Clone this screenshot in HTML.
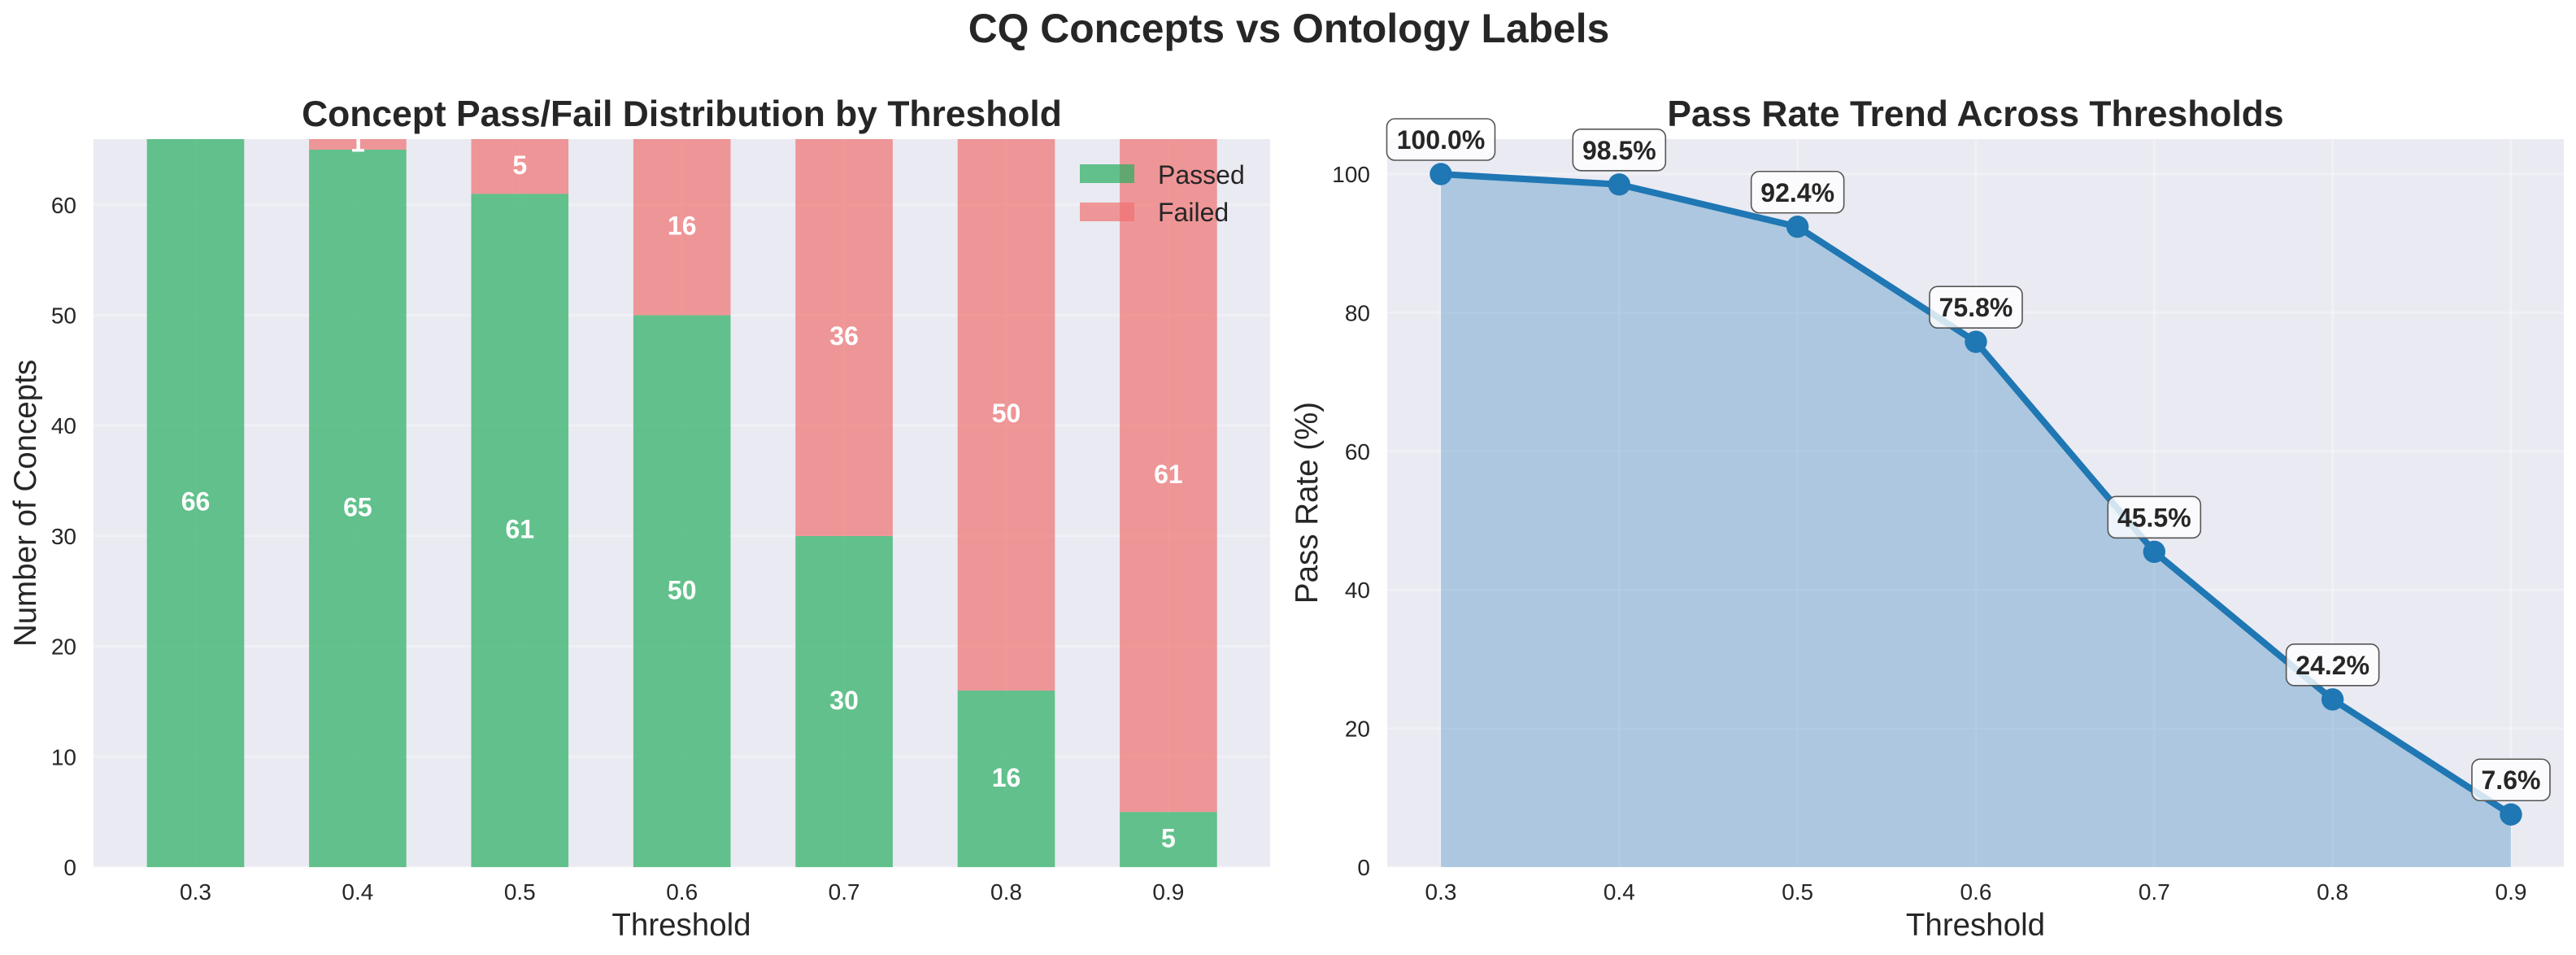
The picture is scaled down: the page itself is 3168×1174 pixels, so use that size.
<!DOCTYPE html>
<html lang="en">
<head>
<meta charset="utf-8">
<title>CQ Concepts vs Ontology Labels</title>
<style>
html,body{margin:0;padding:0;background:#fff;}
svg{display:block;font-family:"Liberation Sans",Arial,sans-serif;}
text{fill:#262626;}
</style>
</head>
<body>
<svg id="chart" xmlns="http://www.w3.org/2000/svg" width="3168" height="1174" viewBox="0 0 3168 1174">
  <defs>
    <clipPath id="left-clip"><rect x="115" y="171" width="1447" height="895"/></clipPath>
    <clipPath id="right-clip"><rect x="1706" y="171" width="1447" height="895"/></clipPath>
  </defs>
  <text x="1585" y="52" text-anchor="middle" font-size="49.8" font-weight="700">CQ Concepts vs Ontology Labels</text>

  <rect x="115" y="171" width="1447" height="895" fill="#eaeaf2"/>
  <g id="left-grid"></g>
  <g id="left-bars" clip-path="url(#left-clip)"></g>
  <g id="left-values"></g>
  <g id="left-ticks"></g>
  <text x="838.5" y="155" text-anchor="middle" font-size="44.4" font-weight="700">Concept Pass/Fail Distribution by Threshold</text>
  <text x="838" y="1150" text-anchor="middle" font-size="38.5">Threshold</text>
  <text transform="translate(44 618.5) rotate(-90)" text-anchor="middle" font-size="38.5">Number of Concepts</text>

  <g>
    <rect x="1328" y="202" width="67" height="23" fill="#27ae60" fill-opacity="0.7"/>
    <text x="1424" y="226" font-size="32">Passed</text>
    <rect x="1328" y="249" width="67" height="23" fill="#f07070" fill-opacity="0.7"/>
    <text x="1424" y="272" font-size="32">Failed</text>
  </g>

  <rect x="1706" y="171" width="1447" height="895" fill="#eaeaf2"/>
  <g id="right-grid"></g>
  <g id="right-series"></g>
  <g id="right-annotations"></g>
  <g id="right-ticks"></g>
  <text x="2429.5" y="155" text-anchor="middle" font-size="44.4" font-weight="700">Pass Rate Trend Across Thresholds</text>
  <text x="2429.5" y="1150" text-anchor="middle" font-size="38.5">Threshold</text>
  <text transform="translate(1620 618) rotate(-90)" text-anchor="middle" font-size="38.5">Pass Rate (%)</text>
</svg>
<script>
const thresholds = [0.3, 0.4, 0.5, 0.6, 0.7, 0.8, 0.9];
const passedCounts = [66, 65, 61, 50, 30, 16, 5];
const failedCounts = [0, 1, 5, 16, 36, 50, 61];
const passRates = [100.0, 98.5, 92.4, 75.8, 45.5, 24.2, 7.6];
const leftYTicks = [0, 10, 20, 30, 40, 50, 60];
const rightYTicks = [0, 20, 40, 60, 80, 100];

const NS = 'http://www.w3.org/2000/svg';
function mk(tag, attrs, parent, txt) {
  const el = document.createElementNS(NS, tag);
  for (const k in attrs) el.setAttribute(k, attrs[k]);
  if (txt !== undefined) el.textContent = txt;
  parent.appendChild(el);
  return el;
}
const byId = id => document.getElementById(id);

const xLeft = i => 240.5 + 199.4 * i;
const yLeft = v => 1066 - 13.57 * v;
const xRight = t => 1772 + (t - 0.3) * 2193.3;
const yRight = v => 1066 - 8.52 * v;
const barWidth = 119.6;
const GRID = {stroke: '#ffffff', 'stroke-opacity': 0.3, 'stroke-width': 3};

leftYTicks.forEach(v => {
  const line = mk('line', Object.assign({x1: 115, x2: 1562, y1: yLeft(v), y2: yLeft(v)}, GRID), byId('left-grid'));
  
  
  const label = mk('text', {x: 94, y: yLeft(v) + 10, 'text-anchor': 'end', 'font-size': 28}, byId('left-ticks'), String(v));
  
  
});

thresholds.forEach((t, i) => {
  const line = mk('line', Object.assign({x1: xLeft(i), x2: xLeft(i), y1: 171, y2: 1066}, GRID), byId('left-grid'));
  
  
  const tick = mk('text', {x: xLeft(i), y: 1106, 'text-anchor': 'middle', 'font-size': 28}, byId('left-ticks'), t.toFixed(1));
  
  

  const p = passedCounts[i], f = failedCounts[i];
  const barP = mk('rect', {x: xLeft(i) - barWidth / 2, y: yLeft(p), width: barWidth, height: yLeft(0) - yLeft(p), fill: '#27ae60', 'fill-opacity': 0.7}, byId('left-bars'));
  
  
  const barF = mk('rect', {x: xLeft(i) - barWidth / 2, y: yLeft(p + f), width: barWidth, height: yLeft(p) - yLeft(p + f), fill: '#f07070', 'fill-opacity': 0.7}, byId('left-bars'));
  
  

  if (p > 0) {
    const vp = mk('text', {x: xLeft(i), y: yLeft(p / 2) + 9.5, 'text-anchor': 'middle', 'font-size': 32, 'font-weight': 700, style: 'fill:#fff'}, byId('left-values'), String(p));
    
    
  }
  if (f > 0) {
    const vf = mk('text', {x: xLeft(i), y: yLeft(p + f / 2) + 9.5, 'text-anchor': 'middle', 'font-size': 32, 'font-weight': 700, style: 'fill:#fff'}, byId('left-values'), String(f));
    
    
  }
});

rightYTicks.forEach(v => {
  const line = mk('line', Object.assign({x1: 1706, x2: 3153, y1: yRight(v), y2: yRight(v)}, GRID), byId('right-grid'));
  
  
  const label = mk('text', {x: 1685, y: yRight(v) + 10, 'text-anchor': 'end', 'font-size': 28}, byId('right-ticks'), String(v));
  
  
});

thresholds.forEach(t => {
  const line = mk('line', Object.assign({x1: xRight(t), x2: xRight(t), y1: 171, y2: 1066}, GRID), byId('right-grid'));
  
  
  const tick = mk('text', {x: xRight(t), y: 1106, 'text-anchor': 'middle', 'font-size': 28}, byId('right-ticks'), t.toFixed(1));
  
  
});

const linePts = thresholds.map((t, i) => xRight(t) + ',' + yRight(passRates[i]));
const areaPts = [xRight(thresholds[0]) + ',' + yRight(0)].concat(linePts, [xRight(thresholds[thresholds.length - 1]) + ',' + yRight(0)]);
const area = mk('polygon', {points: areaPts.join(' '), fill: '#1f77b4', 'fill-opacity': 0.3}, byId('right-series'));


const rateLine = mk('polyline', {points: linePts.join(' '), fill: 'none', stroke: '#1f77b4', 'stroke-width': 8, 'stroke-linejoin': 'round'}, byId('right-series'));



thresholds.forEach((t, i) => {
  const cx = xRight(t), cy = yRight(passRates[i]);
  const dot = mk('circle', {cx: cx, cy: cy, r: 13.7, fill: '#1f77b4'}, byId('right-series'));
  
  

  const label = passRates[i].toFixed(1) + '%';
  const w = label.length >= 6 ? 133 : (label.length === 5 ? 114 : 96);
  const box = mk('rect', {x: cx - w / 2, y: cy - 68, width: w, height: 51, rx: 10, ry: 10, fill: '#ffffff', 'fill-opacity': 0.8, stroke: '#555555', 'stroke-width': 1.6}, byId('right-annotations'));
  
  
  const txt = mk('text', {x: cx, y: cy - 31, 'text-anchor': 'middle', 'font-size': 32, 'font-weight': 700}, byId('right-annotations'), label);
  
  
});
</script>
</body>
</html>
